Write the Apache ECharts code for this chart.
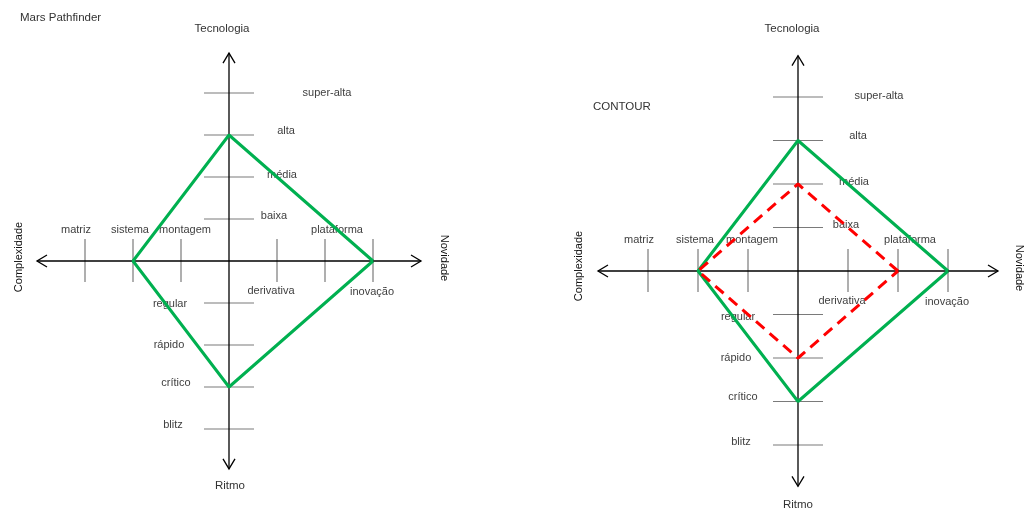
<!DOCTYPE html>
<html>
<head>
<meta charset="utf-8">
<script src="https://cdn.jsdelivr.net/npm/echarts@6/dist/echarts.min.js"></script>
<style>html,body{margin:0;padding:0;background:#fff}#c{width:1024px;height:508px}</style>
</head>
<body>
<div id="c"></div>
<script>
// ---------- DATA ----------
const panelTitles = ['Mars Pathfinder', 'CONTOUR'];
const axisTitles = ['Tecnologia', 'Ritmo', 'Complexidade', 'Novidade'];
const techLevels = ['baixa', 'média', 'alta', 'super-alta'];        // up
const ritmoLevels = ['regular', 'rápido', 'crítico', 'blitz'];      // down
const complexLevels = ['montagem', 'sistema', 'matriz'];            // left
const novidadeLevels = ['derivativa', 'plataforma', 'inovação'];    // right
// profiles as [novidade, tecnologia, complexidade, ritmo] level numbers (1-based)
const marsProfile = [3, 3, 2, 3];
const contourProfile = [3, 3, 2, 3];
const contourTarget = [2, 2, 2, 2];

// ---------- LAYOUT / STYLE ----------
const FONT = '"Liberation Sans", Arial, sans-serif';
const panels = [
  { grid: { left: 37, top: 51, width: 384, height: 420 },
    techDx: [45, 53, 57, 98], techDy: [-3, -2, -4, 0],
    ritDx: [-59, -60, -53, -56], ritDy: [1, 0, -4, -4],
    titleOff: { top: [-7, -24], bottom: [1, 17], left: [-18, -4], right: [23, -3] } },
  { grid: { left: 598, top: 53.5, width: 400, height: 435 },
    techDx: [48, 56, 60, 81], techDy: [-3, -2, -5, -1],
    ritDx: [-60, -62, -55, -57], ritDy: [2, 0, -5, -3],
    titleOff: { top: [-6, -27], bottom: [0, 19], left: [-19, -5], right: [21, -3] } }
];
const compDx = [4, -3, -9], compDy = [-31, -31, -31];
const novDx = [-6, 12, -1], novDy = [30, -31, 31];
const X_MAX = 4, Y_TIP = 4.95;

function diamond(p) {
  return [[p[0], 0], [0, p[1]], [-p[2], 0], [0, -p[3]], [p[0], 0]];
}

function frameRenderer(pi) {
  const L = panels[pi];
  return function (params, api) {
    const els = [];
    const c0 = api.coord([0, 0]);
    const cx = c0[0], cy = c0[1];
    const xl = api.coord([-X_MAX, 0])[0], xr = api.coord([X_MAX, 0])[0];
    const yt = api.coord([0, Y_TIP])[1], yb = api.coord([0, -Y_TIP])[1];
    const axisStyle = { stroke: '#000', lineWidth: 1.3, fill: null };
    const tickStyle = { stroke: '#7a7a7a', lineWidth: 1.2 };
    const lbl = { fill: '#404040', font: '11px ' + FONT };
    function text(t, x, y, extra) {
      els.push({ type: 'text', x: x, y: y, rotation: (extra && extra.rot) || 0,
        style: Object.assign({ text: t, x: 0, y: 0, textAlign: 'center', textVerticalAlign: 'middle',
          align: 'center', verticalAlign: 'middle' }, lbl, extra && extra.style) });
    }
    // ticks
    techLevels.forEach((t, i) => {
      const y = api.coord([0, i + 1])[1];
      els.push({ type: 'line', shape: { x1: cx - 25, y1: y, x2: cx + 25, y2: y }, style: tickStyle });
      text(t, cx + L.techDx[i], y + L.techDy[i]);
    });
    ritmoLevels.forEach((t, i) => {
      const y = api.coord([0, -(i + 1)])[1];
      els.push({ type: 'line', shape: { x1: cx - 25, y1: y, x2: cx + 25, y2: y }, style: tickStyle });
      text(t, cx + L.ritDx[i], y + L.ritDy[i]);
    });
    complexLevels.forEach((t, i) => {
      const x = api.coord([-(i + 1), 0])[0];
      els.push({ type: 'line', shape: { x1: x, y1: cy - 22, x2: x, y2: cy + 21 }, style: tickStyle });
      text(t, x + compDx[i], cy + compDy[i]);
    });
    novidadeLevels.forEach((t, i) => {
      const x = api.coord([i + 1, 0])[0];
      els.push({ type: 'line', shape: { x1: x, y1: cy - 22, x2: x, y2: cy + 21 }, style: tickStyle });
      text(t, x + novDx[i], cy + novDy[i]);
    });
    // axes
    els.push({ type: 'line', shape: { x1: xl, y1: cy, x2: xr, y2: cy }, style: axisStyle });
    els.push({ type: 'line', shape: { x1: cx, y1: yt, x2: cx, y2: yb }, style: axisStyle });
    const a = 10, w = 6;
    els.push({ type: 'polyline', shape: { points: [[xl + a, cy - w], [xl, cy], [xl + a, cy + w]] }, style: axisStyle });
    els.push({ type: 'polyline', shape: { points: [[xr - a, cy - w], [xr, cy], [xr - a, cy + w]] }, style: axisStyle });
    els.push({ type: 'polyline', shape: { points: [[cx - w, yt + a], [cx, yt], [cx + w, yt + a]] }, style: axisStyle });
    els.push({ type: 'polyline', shape: { points: [[cx - w, yb - a], [cx, yb], [cx + w, yb - a]] }, style: axisStyle });
    // axis titles
    const to = L.titleOff;
    const ts = { fill: '#333', font: '11.5px ' + FONT };
    text(axisTitles[0], cx + to.top[0], yt + to.top[1], { style: ts });
    text(axisTitles[1], cx + to.bottom[0], yb + to.bottom[1], { style: ts });
    text(axisTitles[2], xl + to.left[0], cy + to.left[1], { rot: Math.PI / 2, style: { fill: '#111', font: '11px ' + FONT } });
    text(axisTitles[3], xr + to.right[0], cy + to.right[1], { rot: -Math.PI / 2, style: { fill: '#111', font: '11px ' + FONT } });
    return { type: 'group', children: els };
  };
}

const grids = panels.map(p => p.grid);
const xAxes = panels.map((p, i) => ({ type: 'value', gridIndex: i, min: -4, max: 4, show: false }));
const yAxes = panels.map((p, i) => ({ type: 'value', gridIndex: i, min: -5, max: 5, show: false }));

const lineBase = { type: 'line', showSymbol: false, symbol: 'none', silent: true, animation: false, z: 5 };
const series = [
  { type: 'custom', xAxisIndex: 0, yAxisIndex: 0, data: [[0, 0]], renderItem: frameRenderer(0), silent: true, animation: false },
  { type: 'custom', xAxisIndex: 1, yAxisIndex: 1, data: [[0, 0]], renderItem: frameRenderer(1), silent: true, animation: false },
  Object.assign({}, lineBase, { xAxisIndex: 0, yAxisIndex: 0, data: diamond(marsProfile),
    lineStyle: { color: '#00b050', width: 3 } }),
  Object.assign({}, lineBase, { xAxisIndex: 1, yAxisIndex: 1, data: diamond(contourProfile),
    lineStyle: { color: '#00b050', width: 3 } }),
  Object.assign({}, lineBase, { xAxisIndex: 1, yAxisIndex: 1, data: diamond(contourTarget),
    lineStyle: { color: '#ff0000', width: 3, type: [11, 7] } })
];

const chart = echarts.init(document.getElementById('c'));
chart.setOption({
  backgroundColor: '#fff',
  animation: false,
  title: [
    { text: panelTitles[0], left: 20, top: 12, padding: 0, textStyle: { fontFamily: FONT, fontSize: 11.5, fontWeight: 'normal', color: '#333' } },
    { text: panelTitles[1], left: 593, top: 101, padding: 0, textStyle: { fontFamily: FONT, fontSize: 11.5, fontWeight: 'normal', color: '#333' } }
  ],
  grid: grids,
  xAxis: xAxes,
  yAxis: yAxes,
  series: series
});
</script>
</body>
</html>
